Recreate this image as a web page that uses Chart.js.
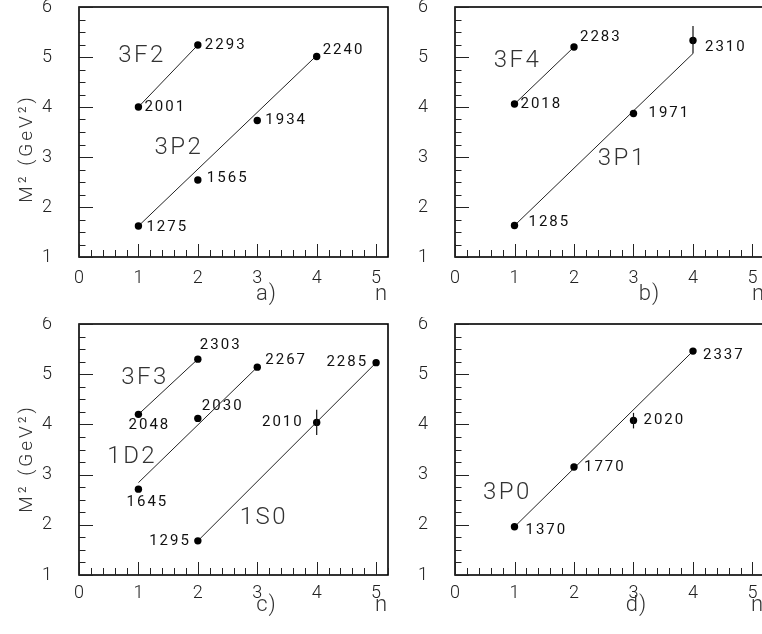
<!DOCTYPE html>
<html>
<head>
<meta charset="utf-8">
<script src="https://cdn.jsdelivr.net/npm/chart.js@4.4.0/dist/chart.umd.min.js"></script>
<style>
html, body { margin: 0; padding: 0; background: #fff; width: 762px; height: 634px; overflow: hidden; position: relative; }
.panel { position: absolute; }
</style>
</head>
<body>
<div class="panel" style="left:0;top:0;width:400px;height:317px"><canvas id="ca"></canvas></div>
<div class="panel" style="left:380px;top:0;width:390px;height:317px"><canvas id="cb"></canvas></div>
<div class="panel" style="left:0;top:317px;width:400px;height:317px"><canvas id="cc"></canvas></div>
<div class="panel" style="left:380px;top:317px;width:390px;height:317px"><canvas id="cd"></canvas></div>
<script>
// tick labels
const nTicks = [0, 1, 2, 3, 4, 5];
const m2Ticks = [1, 2, 3, 4, 5, 6];

// a) 3F2 and 3P2
const nA_3F2 = [1, 2];
const m2A_3F2 = [4.00, 5.24];
const massA_3F2 = ['2001', '2293'];
const fitA_3F2 = [4.00, 5.24];   // fit line at first and last n

const nA_3P2 = [1, 2, 3, 4];
const m2A_3P2 = [1.62, 2.54, 3.73, 5.01];
const massA_3P2 = ['1275', '1565', '1934', '2240'];
const fitA_3P2 = [1.62, 5.03];

// b) 3F4 and 3P1
const nB_3F4 = [1, 2];
const m2B_3F4 = [4.06, 5.20];
const massB_3F4 = ['2018', '2283'];
const fitB_3F4 = [4.06, 5.20];

const nB_3P1 = [1, 3, 4];
const m2B_3P1 = [1.63, 3.87, 5.33];
const massB_3P1 = ['1285', '1971', '2310'];
const errB_3P1 = [null, null, [5.07, 5.62]];
const fitB_3P1 = [1.63, 5.07];

// c) 3F3, 1D2 and 1S0
const nC_3F3 = [1, 2];
const m2C_3F3 = [4.20, 5.30];
const massC_3F3 = ['2048', '2303'];
const fitC_3F3 = [4.20, 5.30];

const nC_1D2 = [1, 2, 3];
const m2C_1D2 = [2.71, 4.12, 5.14];
const massC_1D2 = ['1645', '2030', '2267'];
const fitC_1D2 = [2.84, 5.14];

const nC_1S0 = [2, 4, 5];
const m2C_1S0 = [1.68, 4.04, 5.23];
const massC_1S0 = ['1295', '2010', '2285'];
const errC_1S0 = [null, [3.79, 4.29], null];
const fitC_1S0 = [1.68, 5.23];

// d) 3P0
const nD_3P0 = [1, 2, 3, 4];
const m2D_3P0 = [1.96, 3.15, 4.08, 5.46];
const massD_3P0 = ['1370', '1770', '2020', '2337'];
const errD_3P0 = [null, null, [3.92, 4.23], null];
const fitD_3P0 = [1.96, 5.46];

const thin = 'Roboto, "Open Sans", sans-serif';

// label placement: [dx, dy, align] in pixels from the point
const panels = [
    {
        canvas: 'ca', yw: 79, xh: 60, padRight: 12, xpad: 3, letter: 'a)', letterAt: [266, 294], nAt: [381, 294], yTitleAt: [27, 150],
        series: [
            { name: '3F2', nameAt: [1.04, 5.03], n: nA_3F2, m2: m2A_3F2, mass: massA_3F2, fit: fitA_3F2,
              pos: [[6, 0, 'left'], [7, 0, 'left']] },
            { name: '3P2', nameAt: [1.66, 3.18], n: nA_3P2, m2: m2A_3P2, mass: massA_3P2, fit: fitA_3P2,
              pos: [[8, 1, 'left'], [9, -2, 'left'], [8, 0, 'left'], [6, -6, 'left']] }
        ]
    },
    {
        canvas: 'cb', yw: 75, xh: 60, padRight: 5.6, xpad: 3, letter: 'b)', letterAt: [269, 294], nAt: [378, 294], yTitleAt: null,
        series: [
            { name: '3F4', nameAt: [1.03, 4.92], n: nB_3F4, m2: m2B_3F4, mass: massB_3F4, fit: fitB_3F4,
              pos: [[6, 0, 'left'], [6, -10, 'left']] },
            { name: '3P1', nameAt: [2.79, 2.96], n: nB_3P1, m2: m2B_3P1, mass: massB_3P1, fit: fitB_3P1, err: errB_3P1,
              pos: [[14, -3, 'left'], [15, 0, 'left'], [12, 7, 'left']] }
        ]
    },
    {
        canvas: 'cc', yw: 79, xh: 59, padRight: 12, xpad: 0, letter: 'c)', letterAt: [266, 288], nAt: [381, 288], yTitleAt: [27, 143],
        series: [
            { name: '3F3', nameAt: [1.09, 4.92], n: nC_3F3, m2: m2C_3F3, mass: massC_3F3, fit: fitC_3F3,
              pos: [[10, 11, 'center'], [2, -14, 'left']] },
            { name: '1D2', nameAt: [0.875, 3.36], n: nC_1D2, m2: m2C_1D2, mass: massC_1D2, fit: fitC_1D2,
              pos: [[8, 13, 'center'], [4, -12, 'left'], [8, -7, 'left']] },
            { name: '1S0', nameAt: [3.09, 2.14], n: nC_1S0, m2: m2C_1S0, mass: massC_1S0, fit: fitC_1S0, err: errC_1S0,
              pos: [[-9, 0, 'right'], [-15, 0, 'right'], [-10, 0, 'right']] }
        ]
    },
    {
        canvas: 'cd', yw: 75, xh: 59, padRight: 5.6, xpad: 0, letter: 'd)', letterAt: [256, 288], nAt: [377, 288], yTitleAt: null,
        series: [
            { name: '3P0', nameAt: [0.86, 2.64], n: nD_3P0, m2: m2D_3P0, mass: massD_3P0, fit: fitD_3P0, err: errD_3P0,
              pos: [[11, 3, 'left'], [10, 0, 'left'], [10, 0, 'left'], [10, 4, 'left']] }
        ]
    }
];

function spaced(ctx, text, x, y, align, spacing) {
    ctx.letterSpacing = spacing + 'px';
    let w = ctx.measureText(text).width - spacing;
    let x0 = align === 'left' ? x : align === 'right' ? x - w : x - w / 2;
    ctx.textAlign = 'left';
    ctx.fillText(text, x0, y);
    ctx.letterSpacing = '0px';
}

function decor(p) {
    return {
        id: 'decor',
        afterDatasetsDraw(chart) {
            const ctx = chart.ctx, a = chart.chartArea;
            const xs = chart.scales.x, ys = chart.scales.y;
            ctx.save();
            // frame
            ctx.strokeStyle = '#000';
            ctx.lineWidth = 1.6;
            ctx.strokeRect(a.left, a.top, a.right - a.left, a.bottom - a.top);
            // inward ticks
            ctx.lineWidth = 1;
            ctx.strokeStyle = '#222';
            ctx.beginPath();
            for (let i = 0; i <= 20; i++) {
                const y = Math.round(ys.getPixelForValue(1 + i * 0.25)) + 0.5;
                ctx.moveTo(a.left, y);
                ctx.lineTo(a.left + (i % 4 === 0 ? 14 : 6.5), y);
            }
            for (let i = 0; i <= 26; i++) {
                const x = Math.round(xs.getPixelForValue(i * 0.2)) + 0.5;
                ctx.moveTo(x, a.bottom);
                ctx.lineTo(x, a.bottom - (i % 5 === 0 ? 13 : 7));
            }
            ctx.stroke();
            // error bars
            ctx.strokeStyle = '#111';
            ctx.lineWidth = 1.2;
            p.series.forEach(s => {
                if (!s.err) return;
                s.err.forEach((e, i) => {
                    if (!e) return;
                    const x = xs.getPixelForValue(s.n[i]);
                    ctx.beginPath();
                    ctx.moveTo(x, ys.getPixelForValue(e[0]));
                    ctx.lineTo(x, ys.getPixelForValue(e[1]));
                    ctx.stroke();
                });
            });
            // mass labels
            ctx.fillStyle = '#111';
            ctx.textBaseline = 'middle';
            ctx.font = '400 15px ' + thin;
            p.series.forEach(s => {
                s.mass.forEach((m, i) => {
                    const x = xs.getPixelForValue(s.n[i]), y = ys.getPixelForValue(s.m2[i]);
                    const ps = s.pos[i];
                    spaced(ctx, m, x + ps[0], y + ps[1], ps[2], 2);
                });
            });
            // wave names
            ctx.fillStyle = '#333';
            ctx.font = '300 24px ' + thin;
            p.series.forEach(s => {
                spaced(ctx, s.name, xs.getPixelForValue(s.nameAt[0]), ys.getPixelForValue(s.nameAt[1]), 'center', 2.5);
            });
            // axis captions
            ctx.font = '300 22px ' + thin;
            spaced(ctx, p.letter, p.letterAt[0], p.letterAt[1], 'center', 1);
            spaced(ctx, 'n', p.nAt[0], p.nAt[1], 'center', 0);
            if (p.yTitleAt) {
                ctx.translate(p.yTitleAt[0], p.yTitleAt[1]);
                ctx.rotate(-Math.PI / 2);
                ctx.font = '300 19px ' + thin;
                spaced(ctx, 'M\u00b2 (GeV\u00b2)', 0, 0, 'center', 3);
            }
            ctx.restore();
        }
    };
}

panels.forEach(p => {
    const datasets = [];
    p.series.forEach(s => {
        const last = s.n.length - 1;
        datasets.push({
            data: [{ x: s.n[0], y: s.fit[0] }, { x: s.n[last], y: s.fit[1] }],
            showLine: true, borderColor: '#222', borderWidth: 1, pointRadius: 0, order: 2
        });
        datasets.push({
            data: s.n.map((x, i) => ({ x: x, y: s.m2[i] })),
            showLine: false, pointRadius: 3.7, pointBackgroundColor: '#000', pointBorderWidth: 0, order: 1
        });
    });
    const tickFont = { family: thin, size: 18, weight: '300' };
    new Chart(document.getElementById(p.canvas), {
        type: 'scatter',
        data: { datasets: datasets },
        options: {
            responsive: true,
            maintainAspectRatio: false,
            animation: false,
            events: [],
            layout: { padding: { top: 7, right: p.padRight, left: 0, bottom: 0 } },
            plugins: { legend: { display: false }, tooltip: { enabled: false } },
            scales: {
                x: {
                    type: 'linear', min: 0, max: 5.2,
                    grid: { display: false }, border: { display: false },
                    ticks: { font: tickFont, color: '#222', padding: p.xpad, maxRotation: 0, autoSkip: false },
                    afterBuildTicks: sc => { sc.ticks = nTicks.map(v => ({ value: v })); },
                    afterFit: sc => { sc.height = p.xh; sc.paddingLeft = 0; sc.paddingRight = 0; }
                },
                y: {
                    type: 'linear', min: 1, max: 6,
                    grid: { display: false }, border: { display: false },
                    ticks: { font: tickFont, color: '#222', padding: 19, autoSkip: false },
                    afterBuildTicks: sc => { sc.ticks = m2Ticks.map(v => ({ value: v })); },
                    afterFit: sc => { sc.width = p.yw; sc.paddingTop = 0; sc.paddingBottom = 0; }
                }
            }
        },
        plugins: [decor(p)]
    });
});
</script>
</body>
</html>
